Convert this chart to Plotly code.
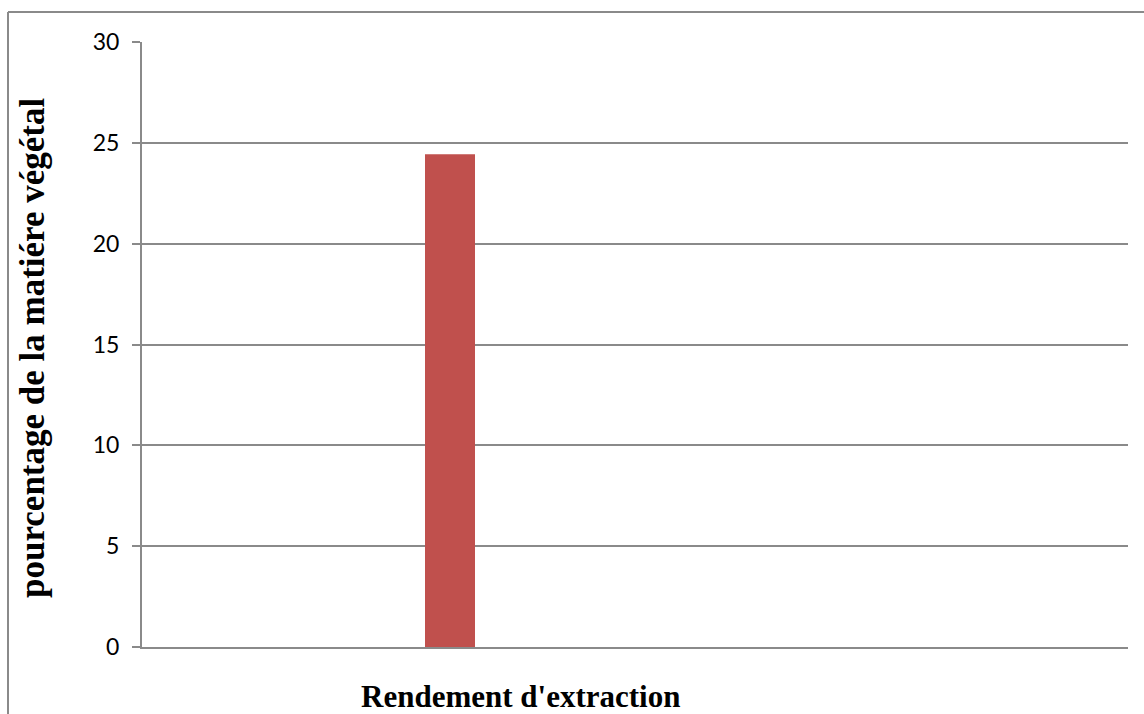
import plotly.graph_objects as go

# Extraction yield data
categories = ["Rendement d'extraction"]
values = [24.43]
y_ticks = [0, 5, 10, 15, 20, 25, 30]

x_title = "Rendement d'extraction"
y_title = "pourcentage de la matiére végétal"

W, H = 1144, 714
ML, MR, MT, MB = 142, 16, 42, 67
PW = W - ML - MR
PH = H - MT - MB

GRID = "#8a8a8a"


def px_x(px):
    return (px - ML) / PW


def px_y(py):
    return (H - MB - py) / PH


fig = go.Figure()
fig.add_trace(go.Bar(
    x=categories,
    y=values,
    width=1,
    marker=dict(color="#C0504D", line=dict(width=0)),
    showlegend=False,
    hoverinfo="y",
))

fig.update_layout(
    width=W,
    height=H,
    margin=dict(l=ML, r=MR, t=MT, b=MB),
    paper_bgcolor="white",
    plot_bgcolor="white",
    font=dict(family="Lato, Liberation Sans, sans-serif", size=23, color="black"),
    xaxis=dict(
        type="category",
        range=[-6.16, 13.56],
        showticklabels=False,
        ticks="",
        showgrid=False,
        showline=True,
        linecolor=GRID,
        linewidth=2,
        zeroline=False,
    ),
    yaxis=dict(
        range=[0, 30],
        tickvals=y_ticks,
        ticktext=[str(v) for v in y_ticks],
        ticks="outside",
        ticklen=8,
        tickwidth=2,
        tickcolor=GRID,
        ticklabelstandoff=8,
        showgrid=True,
        gridcolor=GRID,
        gridwidth=2,
        showline=True,
        linecolor=GRID,
        linewidth=2,
        zeroline=False,
    ),
    shapes=[
        # outer chart frame (left and top edges)
        dict(type="line", xref="paper", yref="paper",
             x0=px_x(8), x1=px_x(8), y0=px_y(12), y1=px_y(720),
             line=dict(color=GRID, width=2)),
        dict(type="line", xref="paper", yref="paper",
             x0=px_x(8), x1=px_x(1150), y0=px_y(12), y1=px_y(12),
             line=dict(color=GRID, width=2)),
    ],
    annotations=[
        dict(text=f"<b>{x_title}</b>", xref="paper", yref="paper",
             x=px_x(520), y=px_y(696), xanchor="center", yanchor="middle",
             showarrow=False,
             font=dict(family="Liberation Serif, Times New Roman, serif", size=31, color="black")),
        dict(text=f"<b>{y_title}</b>", xref="paper", yref="paper",
             x=px_x(32), y=px_y(348), xanchor="center", yanchor="middle",
             textangle=-90, showarrow=False,
             font=dict(family="Liberation Serif, Times New Roman, serif", size=35, color="black")),
    ],
)

fig.write_html("out.html")
